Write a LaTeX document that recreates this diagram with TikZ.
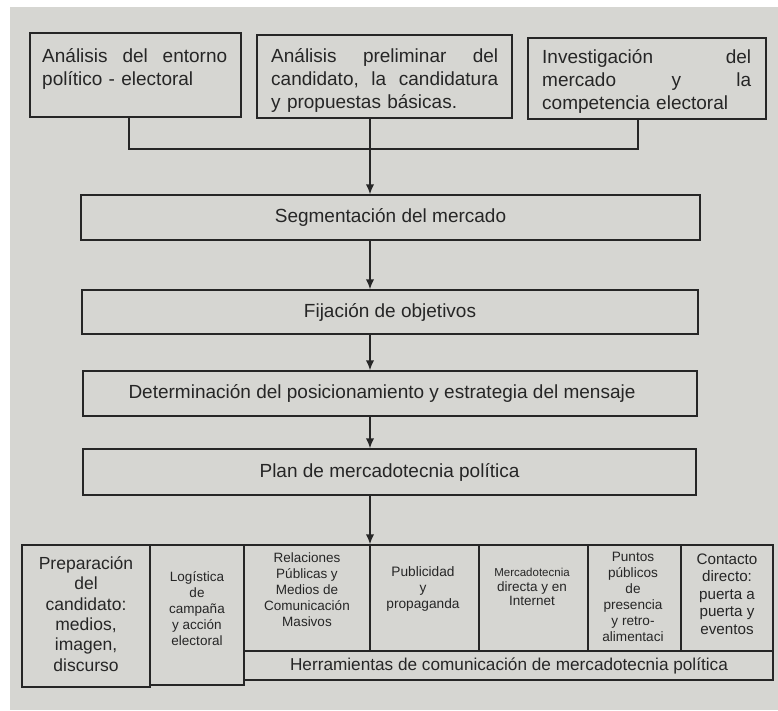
\documentclass[tikz,border=0pt]{standalone}
\usepackage{fontspec}
\setmainfont{Liberation Sans}
\usetikzlibrary{arrows.meta}
\definecolor{paper}{RGB}{214,214,210}
\definecolor{ink}{RGB}{38,38,38}
% a line of text spread to a fixed width, words pushed apart
\newcommand{\spreadline}[2]{\hbox to #1{#2}}
\begin{document}
\begin{tikzpicture}[x=1pt,y=-1pt,
  box/.style 2 args={draw=ink, line width=1.5pt, inner sep=0pt,
    minimum width=#1, minimum height=#2, text=ink},
  toptext/.style={anchor=base west, inner sep=0pt, text width=#1, align=left,
    text=ink, font=\fontsize{19}{23}\selectfont},
  midtext/.style={font=\fontsize{19}{23}\selectfont},
  celltext/.style 2 args={inner sep=0pt, align=center, text=ink,
    font=\fontsize{#1}{#2}\selectfont},
  link/.style={draw=ink, line width=1.5pt},
  arrow/.style={link, -{Latex[length=10pt,width=8.5pt]}}]

% page and paper
\useasboundingbox (0,0) rectangle (778,710);
\fill[white] (0,0) rectangle (778,710);
\fill[paper] (10,7) rectangle (778,710);

% top row of analysis boxes
\node[box={211pt}{84pt}] (a1) at (135.5,75) {};
\node[box={255pt}{83pt}] (a2) at (384.5,76.5) {};
\node[box={238pt}{81pt}] (a3) at (647,78.5) {};

\node[toptext=185pt] (a1t) at (42,62)
  {\spreadline{185pt}{Análisis\hfill del\hfill entorno}
   \hbox{político - electoral}};
\node[toptext=227pt] (a2t) at (271,62)
  {\spreadline{227pt}{Análisis\hfill preliminar\hfill del}
   \spreadline{227pt}{candidato,\hfill la\hfill candidatura}
   \hbox{y propuestas básicas.}};
\node[toptext=209pt] (a3t) at (542,63)
  {\spreadline{209pt}{Investigación\hfill del}
   \spreadline{209pt}{mercado\hfill y\hfill la}
   \hbox{competencia electoral}};

% main sequence
\node[box={619pt}{45pt}, midtext] (seg) at (390.5,217.5) {Segmentación del mercado};
\node[box={616pt}{44pt}, midtext] (fij) at (390,312) {Fijación de objetivos};
\node[box={614pt}{45pt}, midtext] (det) at (390,393.5)
  {\hspace*{-16pt}Determinación del posicionamiento y estrategia del mensaje};
\node[box={613pt}{46pt}, midtext] (plan) at (389.5,472) {Plan de mercadotecnia política};

% table of communication tools
\node[box={128pt}{142pt}] (c1) at (86,616) {};
\node[box={94pt}{140pt}] (c2) at (197,615) {};
\node[box={126pt}{106pt}] (c3) at (307,598) {};
\node[box={109pt}{106pt}] (c4) at (424.5,598) {};
\node[box={109pt}{106pt}] (c5) at (533.5,598) {};
\node[box={93pt}{106pt}] (c6) at (634.5,598) {};
\node[box={92pt}{106pt}] (c7) at (727,598) {};
\node[box={529pt}{29pt}] (herr) at (508.5,665.5) {};

\node[celltext={17.5}{20.4}] (c1t) at (86,614)
  {Preparación\\del\\candidato:\\medios,\\imagen,\\discurso};
\node[celltext={13.5}{15.8}] (c2t) at (197,608.5)
  {Logística\\de\\campaña\\y acción\\electoral};
\node[celltext={13.5}{16}] (c3t) at (307,590)
  {Relaciones\\Públicas y\\Medios de\\Comunicación\\Masivos};
\node[celltext={13.7}{16}] (c4t) at (423,589)
  {Publicidad\\y\\propaganda};
\node[celltext={13.5}{14.5}] (c5t) at (532,587)
  {{\fontsize{11.5}{14.5}\selectfont Mercadotecnia}\\directa y en\\Internet};
\node[celltext={13.6}{16}] (c6t) at (633,597)
  {Puntos\\públicos\\de\\presencia\\y retro-\\alimentaci};
\node[celltext={15.2}{17.5}] (c7t) at (727,594)
  {Contacto\\directo:\\puerta a\\puerta y\\eventos};
\node[celltext={17.2}{20}] (herrt) at (509,666)
  {Herramientas de comunicación de mercadotecnia política};

% connectors
\coordinate (ax) at (370,0);
\coordinate (jl) at (129,149);
\coordinate (jr) at (638,149);
\draw[link] (a1.south -| jl) -- (jl) -- (jr) -- (a3.south -| jr);
\draw[arrow] (a2.south -| ax) -- (seg.north -| ax);
\draw[arrow] (seg.south -| ax) -- (fij.north -| ax);
\draw[arrow] (fij.south -| ax) -- (det.north -| ax);
\draw[arrow] (det.south -| ax) -- (plan.north -| ax);
\draw[arrow] (plan.south -| ax) -- (c4.north -| ax);
\end{tikzpicture}
\end{document}
